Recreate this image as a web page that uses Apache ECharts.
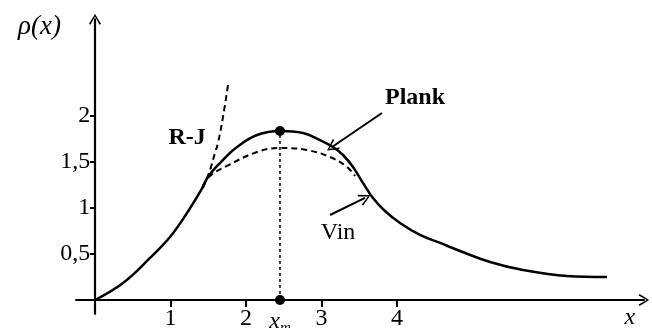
<!DOCTYPE html>
<html>
<head>
<meta charset="utf-8">
<script src="https://cdn.jsdelivr.net/npm/echarts@6/dist/echarts.min.js"></script>
<style>
  html, body { margin: 0; padding: 0; background: #fff; }
  #c { width: 652px; height: 328px; }
</style>
</head>
<body>
<div id="c"></div>
<script>
// Spectral density rho(x): Planck law with the Wien and Rayleigh-Jeans approximations
const planck = [
  [0, 0], [0.371, 0.185], [0.728, 0.457], [0.993, 0.685], [1.219, 0.946],
  [1.391, 1.174], [1.497, 1.337], [1.656, 1.489], [1.881, 1.663], [2.146, 1.793],
  [2.45, 1.837], [2.755, 1.815], [2.98, 1.739], [3.152, 1.663], [3.285, 1.576],
  [3.417, 1.446], [3.55, 1.272], [3.682, 1.109], [3.841, 0.967], [4.04, 0.837],
  [4.305, 0.707], [4.57, 0.62], [4.834, 0.533], [5.232, 0.413], [5.669, 0.326],
  [6.252, 0.261], [6.781, 0.25]
];
const wien = [
  [1.43, 1.239], [1.523, 1.348], [1.748, 1.457], [2.146, 1.609], [2.45, 1.652],
  [2.808, 1.63], [3.113, 1.554], [3.338, 1.446], [3.444, 1.348]
];
const rayleighJeans = [
  [1.43, 1.217], [1.523, 1.413], [1.589, 1.598], [1.629, 1.707], [1.695, 1.989],
  [1.762, 2.337]
];
const peakX = 2.45;
const peakY = 1.837;
const xTicks = [1, 2, 3, 4];
const yTicks = [0.5, 1, 1.5, 2];
const xLabelValues = [1, 2, peakX, 3, 4];
const notes = [
  ['R-J', 1.219, 1.761, 'bold'],
  ['Plank', 4.238, 2.196, 'bold'],
  ['Vin', 3.219, 0.728, 'normal']
];
const pointers = [
  [[3.801, 2.033], [3.139, 1.663]],
  [[3.113, 0.924], [3.576, 1.109]]
];

const INK = '#000';
const SERIF = '"Liberation Serif", "DejaVu Serif", serif';
// open arrow head, tip pointing up
const CHEVRON = 'path://M50,0 L100,80 L88,88 L50,20 L12,88 L0,80 Z';

const chart = echarts.init(document.getElementById('c'), null, { renderer: 'canvas' });

const xRange = { min: -0.25, max: 7.27 };
const yRange = { min: -0.15, max: 3.05 };

chart.setOption({
  animation: false,
  backgroundColor: '#fff',
  grid: { left: 76.125, right: 8.1, top: 19.4, bottom: 14.2, containLabel: false, outerBoundsMode: 'none' },
  xAxis: [
    {
      type: 'value', min: xRange.min, max: xRange.max,
      name: 'x', nameLocation: 'end', nameGap: -14,
      nameTextStyle: { fontFamily: SERIF, fontStyle: 'italic', fontSize: 24, color: INK,
        align: 'center', verticalAlign: 'top', padding: [6, 0, 0, 0] },
      axisLine: { onZero: true, symbol: ['none', CHEVRON], symbolSize: [12, 12],
        lineStyle: { color: INK, width: 2.2 } },
      axisTick: { show: true, inside: false, length: 7, customValues: xTicks,
        lineStyle: { color: INK, width: 2 } },
      axisLabel: {
        show: true, customValues: xLabelValues, margin: -7,
        fontFamily: SERIF, fontSize: 24, color: INK,
        formatter: v => (v === peakX ? '{i|x}{s|m}' : String(v)),
        rich: {
          i: { fontFamily: SERIF, fontStyle: 'italic', fontSize: 24, color: INK },
          s: { fontFamily: SERIF, fontStyle: 'italic', fontSize: 15, color: INK, padding: [14, 0, 0, 0] }
        }
      },
      splitLine: { show: false }
    },
    {
      type: 'value', min: xRange.min, max: xRange.max, gridIndex: 0,
      axisLine: { show: false, onZero: true },
      axisTick: { show: true, inside: true, length: 7, customValues: xTicks,
        lineStyle: { color: INK, width: 2 } },
      axisLabel: { show: false },
      splitLine: { show: false }
    }
  ],
  yAxis: [
    {
      type: 'value', min: yRange.min, max: yRange.max,
      name: 'ρ(x)', nameLocation: 'end', nameGap: -8,
      nameTextStyle: { fontFamily: SERIF, fontStyle: 'italic', fontSize: 27, color: INK,
        align: 'right', verticalAlign: 'middle', padding: [0, 34, 0, 0] },
      axisLine: { onZero: true, symbol: ['none', CHEVRON], symbolSize: [12, 14],
        lineStyle: { color: INK, width: 2.2 } },
      axisTick: { show: true, inside: false, length: 5, customValues: yTicks,
        lineStyle: { color: INK, width: 2 } },
      axisLabel: {
        show: true, customValues: yTicks, margin: -14,
        fontFamily: SERIF, fontSize: 24, color: INK,
        formatter: v => String(v).replace('.', ',')
      },
      splitLine: { show: false }
    },
    {
      type: 'value', min: yRange.min, max: yRange.max, gridIndex: 0,
      axisLine: { show: false, onZero: true },
      axisTick: { show: true, inside: true, length: 5, customValues: yTicks,
        lineStyle: { color: INK, width: 2 } },
      axisLabel: { show: false },
      splitLine: { show: false }
    }
  ],
  series: [
    {
      name: 'Planck', type: 'line', data: planck, smooth: 0.4,
      symbol: 'none', lineStyle: { color: INK, width: 2.5 },
      markLine: {
        silent: true, symbol: ['none', CHEVRON], symbolSize: [12, 12],
        label: { show: false },
        lineStyle: { color: INK, width: 2, type: 'solid' },
        data: pointers.map(p => [{ coord: p[0] }, { coord: p[1] }])
      }
    },
    {
      name: 'Wien', type: 'line', data: wien, smooth: 0.4,
      symbol: 'none', lineStyle: { color: INK, width: 2, type: [6, 4] }
    },
    {
      name: 'Rayleigh-Jeans', type: 'line', data: rayleighJeans, smooth: 0.4,
      symbol: 'none', lineStyle: { color: INK, width: 2, type: [6, 4] }
    },
    {
      name: 'peak', type: 'line', data: [[peakX, 0], [peakX, peakY]],
      symbol: 'none', lineStyle: { color: INK, width: 1.5, type: [3, 3] }
    },
    {
      name: 'peakDots', type: 'scatter', data: [[peakX, peakY], [peakX, 0]],
      symbol: 'circle', symbolSize: 10, itemStyle: { color: INK, opacity: 1 }, z: 5
    },
    {
      name: 'notes', type: 'scatter', symbolSize: 0, silent: true,
      itemStyle: { opacity: 1 },
      data: notes.map(n => ({
        value: [n[1], n[2]], name: n[0],
        label: { fontWeight: n[3] }
      })),
      label: {
        show: true, position: 'inside', formatter: p => p.name,
        fontFamily: SERIF, fontSize: 24, color: INK, textBorderWidth: 0
      }
    }
  ]
});
</script>
</body>
</html>
